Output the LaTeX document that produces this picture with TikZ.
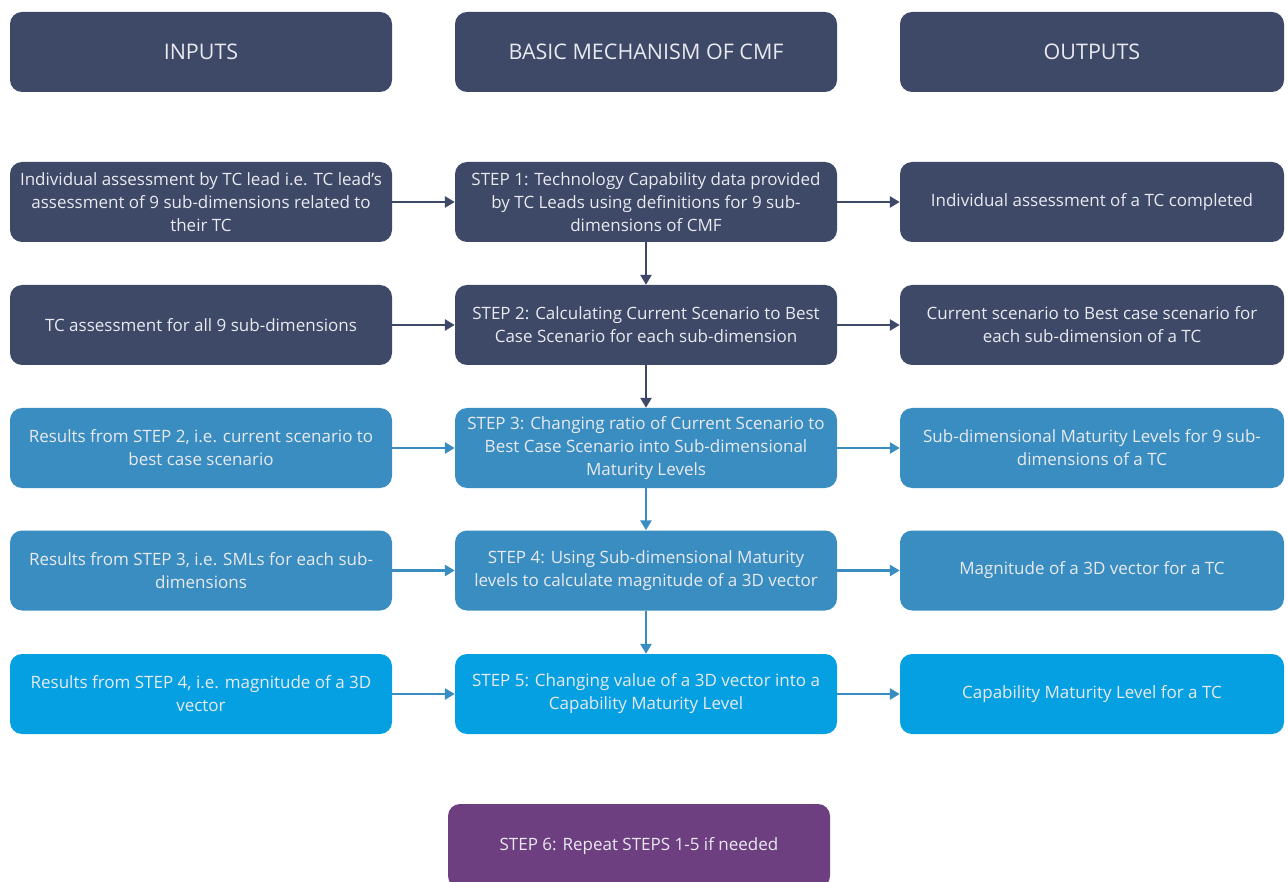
\documentclass[tikz,border=0pt]{standalone}
\usepackage{fontspec}
\setmainfont{Open Sans}
\usetikzlibrary{arrows.meta}
\definecolor{navy}{HTML}{3E4867}
\definecolor{midblue}{HTML}{3A8DC0}
\definecolor{brightblue}{HTML}{05A0E2}
\definecolor{plum}{HTML}{6E3F80}
\definecolor{paletext}{HTML}{E8EAF0}
\begin{document}
\begin{tikzpicture}[x=1pt,y=-1pt,
  box/.style={rounded corners=12pt, minimum height=80pt, align=center,
    text=paletext, font=\fontsize{17}{23}\selectfont, inner sep=0pt},
  colbox/.style={box, minimum width=382pt},
  headbox/.style={colbox, fill=navy, font=\fontsize{21.5}{26}\selectfont},
  flow/.style={line width=2.8pt, -{Triangle[length=10pt,width=11pt]}},
]
\useasboundingbox (0,0) rectangle (1288,882);
\fill[white] (0,0) rectangle (1288,882);

% column headings
\node[headbox] (hin)  at (201,52)  {INPUTS};
\node[headbox] (hmid) at (646,52)  {BASIC MECHANISM OF CMF};
\node[headbox, minimum width=384pt] (hout) at (1092,52) {OUTPUTS};

% row 1
\node[colbox, fill=navy] (in1) at (201,202) {Individual assessment by TC lead i.e. TC lead’s\\assessment of 9 sub-dimensions related to\\their TC};
\node[colbox, fill=navy] (st1) at (646,202) {STEP 1: Technology Capability data provided\\by TC Leads using definitions for 9 sub-\\dimensions of CMF};
\node[colbox, fill=navy, minimum width=384pt] (out1) at (1092,202) {Individual assessment of a TC completed};

% row 2
\node[colbox, fill=navy] (in2) at (201,325) {TC assessment for all 9 sub-dimensions};
\node[colbox, fill=navy] (st2) at (646,325) {STEP 2: Calculating Current Scenario to Best\\Case Scenario for each sub-dimension};
\node[colbox, fill=navy, minimum width=384pt] (out2) at (1092,325) {Current scenario to Best case scenario for\\each sub-dimension of a TC};

% row 3
\node[colbox, fill=midblue] (in3) at (201,448) {Results from STEP 2, i.e. current scenario to\\best case scenario};
\node[colbox, fill=midblue] (st3) at (646,448) {STEP 3: Changing ratio of Current Scenario to\\Best Case Scenario into Sub-dimensional\\Maturity Levels};
\node[colbox, fill=midblue, minimum width=384pt] (out3) at (1092,448) {Sub-dimensional Maturity Levels for 9 sub-\\dimensions of a TC};

% row 4
\node[colbox, fill=midblue] (in4) at (201,570.5) {Results from STEP 3, i.e. SMLs for each sub-\\dimensions};
\node[colbox, fill=midblue] (st4) at (646,570.5) {STEP 4: Using Sub-dimensional Maturity\\levels to calculate magnitude of a 3D vector};
\node[colbox, fill=midblue, minimum width=384pt] (out4) at (1092,570.5) {Magnitude of a 3D vector for a TC};

% row 5
\node[colbox, fill=brightblue] (in5) at (201,694) {Results from STEP 4, i.e. magnitude of a 3D\\vector};
\node[colbox, fill=brightblue] (st5) at (646,694) {STEP 5: Changing value of a 3D vector into a\\Capability Maturity Level};
\node[colbox, fill=brightblue, minimum width=384pt] (out5) at (1092,694) {Capability Maturity Level for a TC};

% final step
\node[colbox, fill=plum, minimum height=84pt] (st6) at (639,846) {STEP 6: Repeat STEPS 1-5 if needed};

% horizontal flows
\draw[flow, navy] (in1) -- (st1);
\draw[flow, navy] (st1) -- (out1);
\draw[flow, navy] (in2) -- (st2);
\draw[flow, navy] (st2) -- (out2);
\draw[flow, midblue] (in3) -- (st3);
\draw[flow, midblue] (st3) -- (out3);
\draw[flow, midblue] (in4) -- (st4);
\draw[flow, midblue] (st4) -- (out4);
\draw[flow, midblue] (in5) -- (st5);
\draw[flow, midblue] (st5) -- (out5);

% vertical flows between steps
\draw[flow, navy] (st1) -- (st2);
\draw[flow, navy] (st2) -- (st3);
\draw[flow, midblue] (st3) -- (st4);
\draw[flow, midblue] (st4) -- (st5);
\end{tikzpicture}
\end{document}
